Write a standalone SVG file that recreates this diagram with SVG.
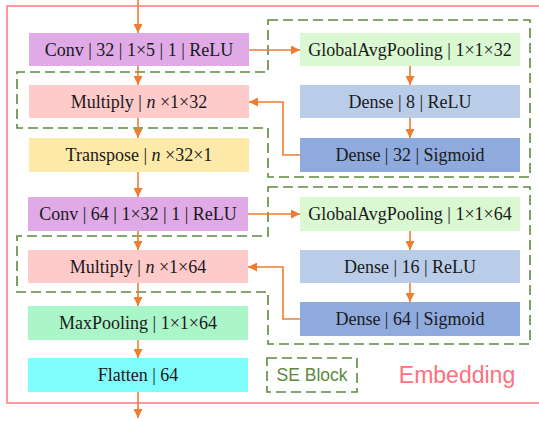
<svg xmlns="http://www.w3.org/2000/svg" width="539" height="421" viewBox="0 0 539 421">
<defs>
<marker id="ah" viewBox="0 0 10 10" refX="10" refY="5" markerWidth="9" markerHeight="9" markerUnits="userSpaceOnUse" orient="auto">
<path d="M0,0 L10,5 L0,10 Z" fill="#ed7d31"/>
</marker>
<style>
.t{font-family:"Liberation Serif","Times New Roman",serif;font-size:18px;fill:#1a1a1a;text-anchor:middle}
.i{font-style:italic}
.c{fill:none;stroke:#ed7d31;stroke-width:1.6;marker-end:url(#ah)}
.se{fill:none;stroke:#5b8a3c;stroke-width:1.6;stroke-dasharray:10 5}
</style>
</defs>
<rect x="7" y="6" width="545" height="397" fill="none" stroke="#ff7f85" stroke-width="1.6"/>
<g id="se1"><path class="se" d="M268,20 H530 V177 H268 V128 H17 V72 H268 Z"/></g>
<g id="se2"><path class="se" d="M268,187 H530 V344 H268 V292 H17 V236 H268 Z"/></g>
<g id="conv1"><rect x="29" y="33" width="220" height="33" fill="#dfaae6"/><text class="t" x="139" y="56">Conv | 32 | 1×5 | 1 | ReLU</text></g>
<g id="mul1"><rect x="29" y="85" width="220" height="33" fill="#ffcaca"/><text class="t" x="139" y="108">Multiply | <tspan class="i">n</tspan> ×1×32</text></g>
<g id="transpose"><rect x="29" y="138" width="220" height="34" fill="#fde9a8"/><text class="t" x="139" y="161">Transpose | <tspan class="i">n</tspan> ×32×1</text></g>
<g id="conv2"><rect x="28" y="197" width="220" height="34" fill="#dfaae6"/><text class="t" x="138" y="220">Conv | 64 | 1×32 | 1 | ReLU</text></g>
<g id="mul2"><rect x="28" y="250" width="220" height="33" fill="#ffcaca"/><text class="t" x="138" y="273">Multiply | <tspan class="i">n</tspan> ×1×64</text></g>
<g id="maxpool"><rect x="28" y="306" width="220" height="34" fill="#aaf6c9"/><text class="t" x="138" y="329">MaxPooling | 1×1×64</text></g>
<g id="flatten"><rect x="28" y="358" width="220" height="34" fill="#7ffcfc"/><text class="t" x="138" y="381">Flatten | 64</text></g>
<g id="gap1"><rect x="300" y="33" width="220" height="33" fill="#daf8d2"/><text class="t" x="410" y="56">GlobalAvgPooling | 1×1×32</text></g>
<g id="dense8"><rect x="300" y="85" width="220" height="33" fill="#b9cde8"/><text class="t" x="410" y="108">Dense | 8 | ReLU</text></g>
<g id="dense32"><rect x="300" y="138" width="220" height="34" fill="#8faadc"/><text class="t" x="410" y="161">Dense | 32 | Sigmoid</text></g>
<g id="gap2"><rect x="300" y="197" width="220" height="34" fill="#daf8d2"/><text class="t" x="410" y="220">GlobalAvgPooling | 1×1×64</text></g>
<g id="dense16"><rect x="300" y="250" width="220" height="33" fill="#b9cde8"/><text class="t" x="410" y="273">Dense | 16 | ReLU</text></g>
<g id="dense64"><rect x="300" y="302" width="220" height="34" fill="#8faadc"/><text class="t" x="410" y="325">Dense | 64 | Sigmoid</text></g>
<g id="legend"><rect class="se" x="267" y="358" width="90" height="34"/><text x="312" y="381" font-family="'Liberation Sans',Arial,sans-serif" font-size="17.5" fill="#5b8a3c" text-anchor="middle">SE Block</text></g>
<text x="457" y="383" font-family="'Liberation Sans',Arial,sans-serif" font-size="23" fill="#ff707c" text-anchor="middle">Embedding</text>
<g id="connectors">
<path class="c" d="M138,0 V33"/>
<path class="c" d="M138,66 V85"/>
<path class="c" d="M138,118 V138"/>
<path class="c" d="M138,172 V197"/>
<path class="c" d="M138,231 V250"/>
<path class="c" d="M138,283 V306"/>
<path class="c" d="M138,340 V358"/>
<path class="c" d="M138,392 V418"/>
<path class="c" d="M410,66 V85"/>
<path class="c" d="M410,118 V138"/>
<path class="c" d="M410,231 V250"/>
<path class="c" d="M410,283 V302"/>
<path class="c" d="M249,50 H300"/>
<path class="c" d="M300,155 H283 V102 H249"/>
<path class="c" d="M248,214 H300"/>
<path class="c" d="M300,319 H283 V267 H248"/>
</g>
</svg>
